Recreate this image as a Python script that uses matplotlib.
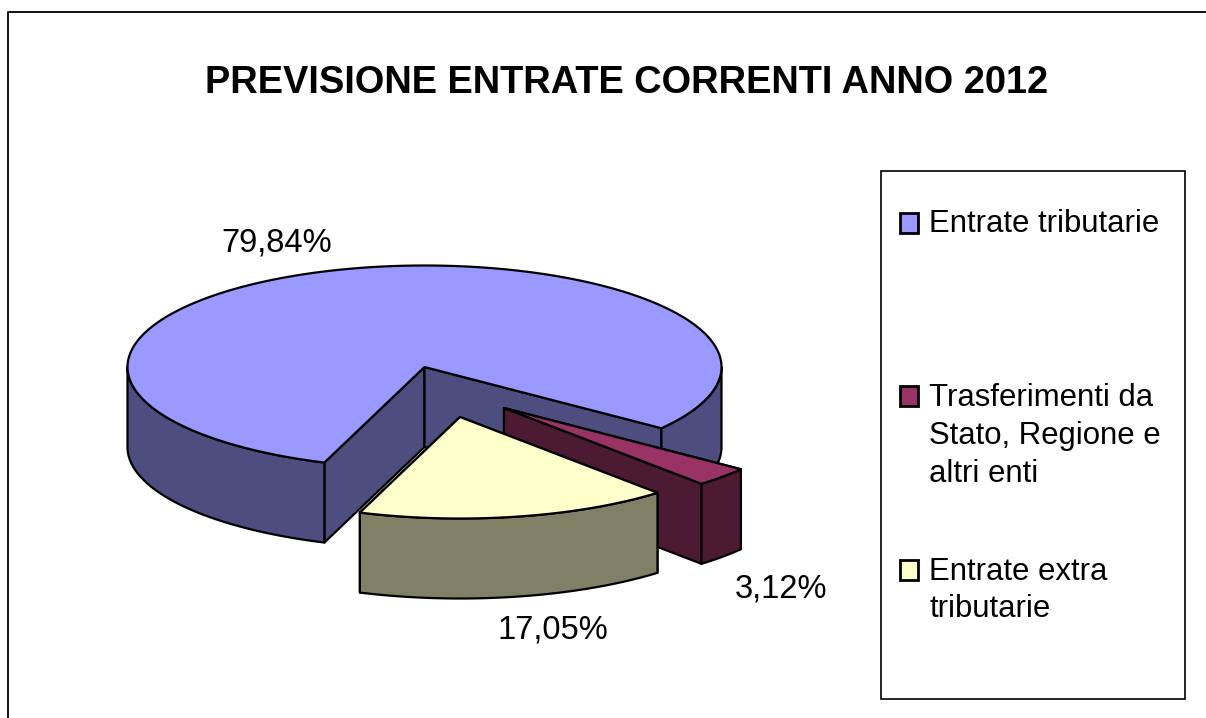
import numpy as np
import matplotlib
matplotlib.use("Agg")
import matplotlib.pyplot as plt
from matplotlib.patches import Polygon, Rectangle

title = "PREVISIONE ENTRATE CORRENTI ANNO 2012"
categories = ["Entrate tributarie", "Trasferimenti da\nStato, Regione e\naltri enti", "Entrate extra\ntributarie"]
values = [79.84, 3.12, 17.05]
value_labels = ["79,84%", "3,12%", "17,05%"]

top_colors = ["#9999FF", "#993366", "#FFFFCC"]
side_colors = ["#4D4D80", "#4D1A33", "#808066"]
centers = [(424.5, 367), (504, 408), (460, 417)]
label_pos = [(277, 243), (781, 589), (553, 630)]
legend_key_y = [223, 396, 570]
legend_text_y = [224, 398, 572]
legend_spacing = [1.29, 1.35, 1.29]

RX, RY, DEPTH = 297, 101.5, 80
START = 250.3
LW = 1.6

plt.rcParams["font.family"] = ["Liberation Sans", "DejaVu Sans"]
fig = plt.figure(figsize=(12.06, 7.18), dpi=100)
ax = fig.add_axes([0, 0, 1, 1])
ax.set_xlim(0, 1206)
ax.set_ylim(718, 0)
ax.axis("off")


def arc(c, a0, a1, n=200):
    t = np.radians(np.linspace(a0, a1, n))
    return np.column_stack([c[0] + RX * np.cos(t), c[1] - RY * np.sin(t)])


def poly(pts, fc, z):
    ax.add_patch(Polygon(pts, closed=True, fc=fc, ec="black", lw=LW, joinstyle="round", zorder=z))


def wall(c, a0, a1, fc, z):
    """Outer wall for the part of the arc a0..a1 that faces the viewer."""
    lo, hi = min(a0, a1), max(a0, a1)
    for k in (-1, 0, 1):
        s = max(lo, 180 + 360 * k)
        e = min(hi, 360 + 360 * k)
        if e > s:
            up = arc(c, s, e)
            poly(np.vstack([up, (up + [0, DEPTH])[::-1]]), fc, z)


def cut(c, a, fc, z):
    p = arc(c, a, a, 1)[0]
    poly(np.array([c, p, np.add(p, [0, DEPTH]), np.add(c, [0, DEPTH])]), fc, z)


angles = START - np.cumsum([0] + values) * 3.6 / (sum(values) / 100)
z = 2
for i in range(3):
    c = centers[i]
    a0, a1 = angles[i], angles[i + 1]
    # faces, back to front
    cut(c, a0, side_colors[i], z)
    cut(c, a1, side_colors[i], z)
    wall(c, a0, a1, side_colors[i], z + 1)
    poly(np.vstack([[c], arc(c, a0, a1)]), top_colors[i], z + 2)
    z += 3

# chart frame
ax.plot([8, 8, 1206], [718, 11.5, 11.5], color="black", lw=1.3, zorder=1, clip_on=False)

ax.text(626.5, 83, title, ha="center", va="center", fontsize=27.4, fontweight="bold", color="black")

for (x, y), s in zip(label_pos, value_labels):
    ax.text(x, y, s, ha="center", va="center", fontsize=23.5, color="black")

# legend
ax.add_patch(Rectangle((880.5, 171), 304, 528, fc="white", ec="black", lw=1.2, zorder=1))
for i in range(3):
    ax.add_patch(Rectangle((900, legend_key_y[i] - 10), 18, 20, fc=top_colors[i], ec="black", lw=2, zorder=2))
    ax.text(929, legend_text_y[i] - 15, categories[i], ha="left", va="top", fontsize=22.4,
            linespacing=legend_spacing[i], color="black")

fig.savefig("out.png", dpi=100)
